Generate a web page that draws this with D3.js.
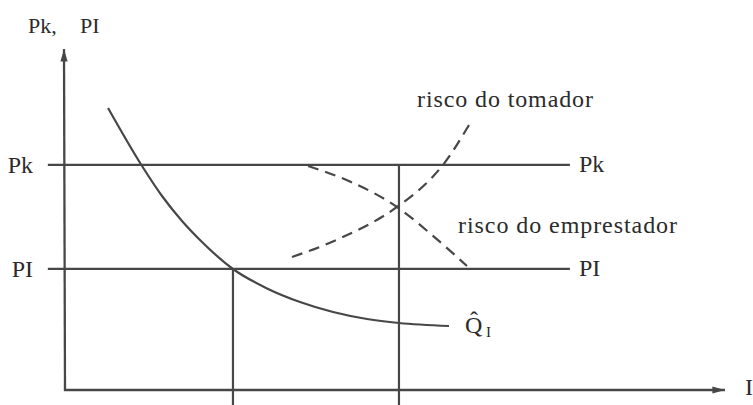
<!DOCTYPE html>
<html>
<head>
<meta charset="utf-8">
<script src="https://cdn.jsdelivr.net/npm/d3@7"></script>
<style>
  html, body { margin: 0; padding: 0; background: #fff; }
  svg { display: block; }
</style>
</head>
<body>
<svg id="chart" width="753" height="405"></svg>
<script>
// ---- data (schematic units, 0..100 on each axis) ----
const priceLevels = [
  { name: "Pk", value: 66 },
  { name: "PI", value: 35.5 }
];
const lineExtent = [-2.6, 76.5];          // horizontal price lines run from/to
const investmentLevels = [
  { x: 25.45, top: 35.5 },                 // I at PI
  { x: 50.6, top: 66 }                     // I at Pk
];
const verticalBottom = -4.5;
const qCurveX = [6.52, 11.67, 14.70, 17.73, 20.76, 25.45, 30.61, 35.61, 40.61, 45.76, 50.61, 58.18];
const qCurveY = [82.70, 65.69, 56.89, 49.56, 43.40, 35.48, 29.79, 25.81, 22.87, 20.82, 19.65, 18.77];
const tomadorX = [34.39, 41.67, 50.30, 55.76, 57.27, 61.52];
const tomadorY = [39.00, 44.46, 53.67, 62.64, 66.01, 78.74];
const emprestadorX = [36.82, 43.18, 50.30, 55.61, 60.91];
const emprestadorY = [65.69, 61.14, 53.67, 45.45, 36.36];
const labels = {
  yAxis: ["Pk,", "PI"],
  xAxis: "I",
  tomador: "risco do tomador",
  emprestador: "risco do emprestador",
  q: "Q\u0302",
  qSub: "I"
};

// ---- layout ----
const FONT = "'Liberation Serif', 'Times New Roman', Times, serif";
const TEXT = "#2b2b2b";
const svg = d3.select("#chart");
const x = d3.scaleLinear().domain([0, 100]).range([65, 725]);
const y = d3.scaleLinear().domain([0, 100]).range([390, 49]);
const ink = "#474747";

// arrow markers
const defs = svg.append("defs");
defs.append("marker")
  .attr("id", "arrow").attr("viewBox", "0 0 14 10")
  .attr("refX", 14).attr("refY", 5)
  .attr("markerWidth", 14).attr("markerHeight", 9)
  .attr("markerUnits", "userSpaceOnUse")
  .attr("orient", "auto")
  .append("path").attr("d", "M0,1 L14,5 L0,9 Z").attr("fill", ink);

// axes
svg.append("line")
  .attr("x1", x(0) - 1).attr("y1", y(0)).attr("x2", x(100)).attr("y2", y(0))
  .attr("stroke", ink).attr("stroke-width", 2.3).attr("marker-end", "url(#arrow)");
svg.append("line")
  .attr("x1", x(0)).attr("y1", y(0) + 1).attr("x2", x(0) - 1).attr("y2", y(100))
  .attr("stroke", ink).attr("stroke-width", 2.3).attr("marker-end", "url(#arrow)");

// horizontal price lines
svg.selectAll("line.price").data(priceLevels).enter().append("line")
  .attr("class", "price")
  .attr("x1", x(lineExtent[0])).attr("x2", x(lineExtent[1]))
  .attr("y1", d => y(d.value)).attr("y2", d => y(d.value))
  .attr("stroke", ink).attr("stroke-width", 2.2);

// vertical investment lines
svg.selectAll("line.inv").data(investmentLevels).enter().append("line")
  .attr("class", "inv")
  .attr("x1", d => x(d.x)).attr("x2", d => x(d.x))
  .attr("y1", d => y(d.top)).attr("y2", y(verticalBottom))
  .attr("stroke", ink).attr("stroke-width", 2.2);

// curves
const line = d3.line().x(d => x(d[0])).y(d => y(d[1])).curve(d3.curveMonotoneX);
svg.append("path")
  .attr("d", line(d3.zip(qCurveX, qCurveY)))
  .attr("fill", "none").attr("stroke", ink).attr("stroke-width", 2.2);
svg.append("path")
  .attr("d", line(d3.zip(tomadorX, tomadorY)))
  .attr("fill", "none").attr("stroke", ink).attr("stroke-width", 2.2)
  .attr("stroke-dasharray", "11,7");
svg.append("path")
  .attr("d", line(d3.zip(emprestadorX, emprestadorY)))
  .attr("fill", "none").attr("stroke", ink).attr("stroke-width", 2.2)
  .attr("stroke-dasharray", "11,7");

// labels
const big = 24;
function txt(sel) { return sel.attr("font-family", FONT).attr("fill", TEXT); }
// left price labels
txt(svg.selectAll("text.left").data(priceLevels).enter().append("text"))
  .attr("class", "left")
  .attr("x", 33).attr("y", d => y(d.value) + 8)
  .attr("text-anchor", "end").attr("font-size", big)
  .text(d => d.name);
// right price labels
txt(svg.selectAll("text.right").data(priceLevels).enter().append("text"))
  .attr("class", "right")
  .attr("x", x(lineExtent[1]) + 9).attr("y", d => y(d.value) + 7)
  .attr("font-size", big)
  .text(d => d.name);
// y axis title
txt(svg.append("text")).attr("x", 28).attr("y", 33).attr("font-size", 22).text(labels.yAxis[0]);
txt(svg.append("text")).attr("x", 80).attr("y", 33).attr("font-size", 22).text(labels.yAxis[1]);
// x axis label
txt(svg.append("text")).attr("x", 745).attr("y", 395).attr("font-size", big).text(labels.xAxis);
// risk labels
txt(svg.append("text")).attr("x", 417).attr("y", 107).attr("font-size", big)
  .attr("textLength", 176).attr("lengthAdjust", "spacing").text(labels.tomador);
txt(svg.append("text")).attr("x", 458).attr("y", 233).attr("font-size", big)
  .attr("textLength", 219).attr("lengthAdjust", "spacing").text(labels.emprestador);
// Q hat label
const qEnd = [qCurveX[qCurveX.length - 1], qCurveY[qCurveY.length - 1]];
const qx = x(qEnd[0]) + 16, qy = y(qEnd[1]) + 7;
txt(svg.append("text")).attr("x", qx).attr("y", qy).attr("font-size", big).text(labels.q);
txt(svg.append("text")).attr("x", qx + 21).attr("y", qy + 4).attr("font-size", 15).text(labels.qSub);
</script>
</body>
</html>
